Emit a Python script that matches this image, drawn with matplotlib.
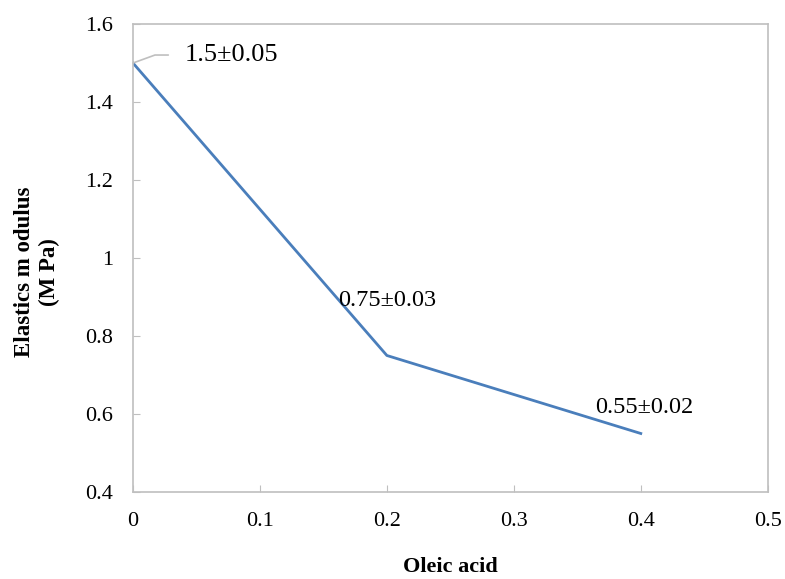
import numpy as np
import matplotlib
matplotlib.use("Agg")
import matplotlib.pyplot as plt

# data
oleic = [0.0, 0.2, 0.4]
modulus = [1.5, 0.75, 0.55]
labels = ["1.5\u00b10.05", "0.75\u00b10.03", "0.55\u00b10.02"]
xticks = [0, 0.1, 0.2, 0.3, 0.4, 0.5]
yticks = [0.4, 0.6, 0.8, 1.0, 1.2, 1.4, 1.6]

plt.rcParams['font.family'] = ['Liberation Serif', 'DejaVu Serif']

fig = plt.figure(figsize=(7.85, 5.79), dpi=100)
ax = fig.add_axes([0.1694, 0.1503, 0.8086, 0.8082])

ax.plot(oleic, modulus, color='#4a7ebb', lw=2)

ax.set_xlim(0, 0.5)
ax.set_ylim(0.4, 1.6)
ax.set_xticks(xticks)
ax.set_xticklabels(["0", "0.1", "0.2", "0.3", "0.4", "0.5"])
ax.set_yticks(yticks)
ax.set_yticklabels(["0.4", "0.6", "0.8", "1", "1.2", "1.4", "1.6"])
ax.tick_params(direction='in', length=5, color='#bfbfbf', labelsize=16, pad=14.4)
for s in ax.spines.values():
    s.set_color('#bfbfbf')
    s.set_linewidth(1.2)

# data labels
ax.annotate(labels[0], xy=(oleic[0], modulus[0]), xytext=(52, 8), textcoords='offset pixels',
            fontsize=19, va='center', ha='left',
            arrowprops=dict(arrowstyle='-', color='#bfbfbf', lw=1.2, shrinkA=10, shrinkB=0,
                            connectionstyle='angle,angleA=0,angleB=20,rad=0'))
ax.annotate(labels[1], xy=(oleic[1], modulus[1]), xytext=(-49, 55), textcoords='offset pixels',
            fontsize=17.5, va='center', ha='left')
ax.annotate(labels[2], xy=(oleic[2], modulus[2]), xytext=(-46, 26), textcoords='offset pixels',
            fontsize=17.5, va='center', ha='left')

ax.set_xlabel("Oleic acid", fontsize=16, fontweight='bold', va='center')
ax.xaxis.set_label_coords(0.5, -75 / 468)
ax.set_ylabel("Elastics m odulus\n(M Pa)", fontsize=16.5, fontweight='bold', va='center',
              linespacing=1.3)
ax.yaxis.set_label_coords(-96 / 635, 0.47)

fig.savefig("out.png", dpi=100)
